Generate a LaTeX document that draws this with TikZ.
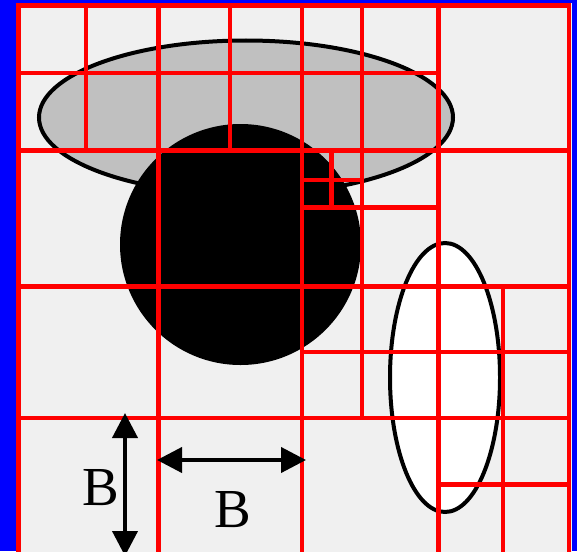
\documentclass[tikz,border=0pt]{standalone}
\usepackage{fontspec}
\setmainfont{Liberation Serif}
\usetikzlibrary{arrows.meta}
\definecolor{bgblue}{RGB}{0,0,255}
\definecolor{panel}{RGB}{240,240,240}
\definecolor{blobgray}{RGB}{192,192,192}
\begin{document}
\begin{tikzpicture}[x=1pt,y=-1pt,
  grid/.style={draw=red,line width=4.6pt,line cap=rect},
  blob/.style={draw=black,line width=4pt},
  dimarrow/.style={line width=4pt,{Triangle[length=25pt,width=25pt]}-{Triangle[length=25pt,width=25pt]}},
  lab/.style={font=\fontsize{55}{55}\selectfont,inner sep=0pt}]
\useasboundingbox (0,0) rectangle (577,551);
\clip (0,0) rectangle (577,551);
\fill[bgblue] (0,0) rectangle (577,551);
\fill[panel] (16,3) rectangle (572,560);
% shapes
\filldraw[blob,fill=blobgray] (246,117.5) ellipse [x radius=207pt,y radius=77pt];
\fill[black] (240.5,244.5) circle [radius=120.5pt];
\filldraw[blob,fill=white] (445,377.5) ellipse [x radius=55pt,y radius=134.5pt];
% grid
\draw[grid] (86,5.5) -- (86,150.5);
\draw[grid] (158.5,5.5) -- (158.5,556);
\draw[grid] (230,5.5) -- (230,150.5);
\draw[grid] (302,5.5) -- (302,556);
\draw[grid] (331.5,150.5) -- (331.5,207.5);
\draw[grid] (362,5.5) -- (362,418);
\draw[grid] (438.5,5.5) -- (438.5,556);
\draw[grid] (503,286.5) -- (503,556);
\draw[grid] (18.5,73) -- (438.5,73);
\draw[grid] (18.5,150.5) -- (569,150.5);
\draw[grid] (302,180) -- (362,180);
\draw[grid] (302,207.5) -- (438.5,207.5);
\draw[grid] (18.5,286.5) -- (569,286.5);
\draw[grid] (302,352) -- (569,352);
\draw[grid] (18.5,418) -- (569,418);
\draw[grid] (438.5,484.5) -- (569,484.5);
\draw[grid] (18.5,5.5) rectangle (569,556);
% dimension arrows
\coordinate (vt) at (125,413);
\coordinate (vb) at (125,556);
\coordinate (hl) at (157,460);
\coordinate (hr) at (306,460);
\draw[dimarrow] (vt) -- (vb);
\draw[dimarrow] (hl) -- (hr);
\node[lab] (bv) at (101,488) {B};
\node[lab] (bh) at (232.5,510) {B};
\end{tikzpicture}
\end{document}
